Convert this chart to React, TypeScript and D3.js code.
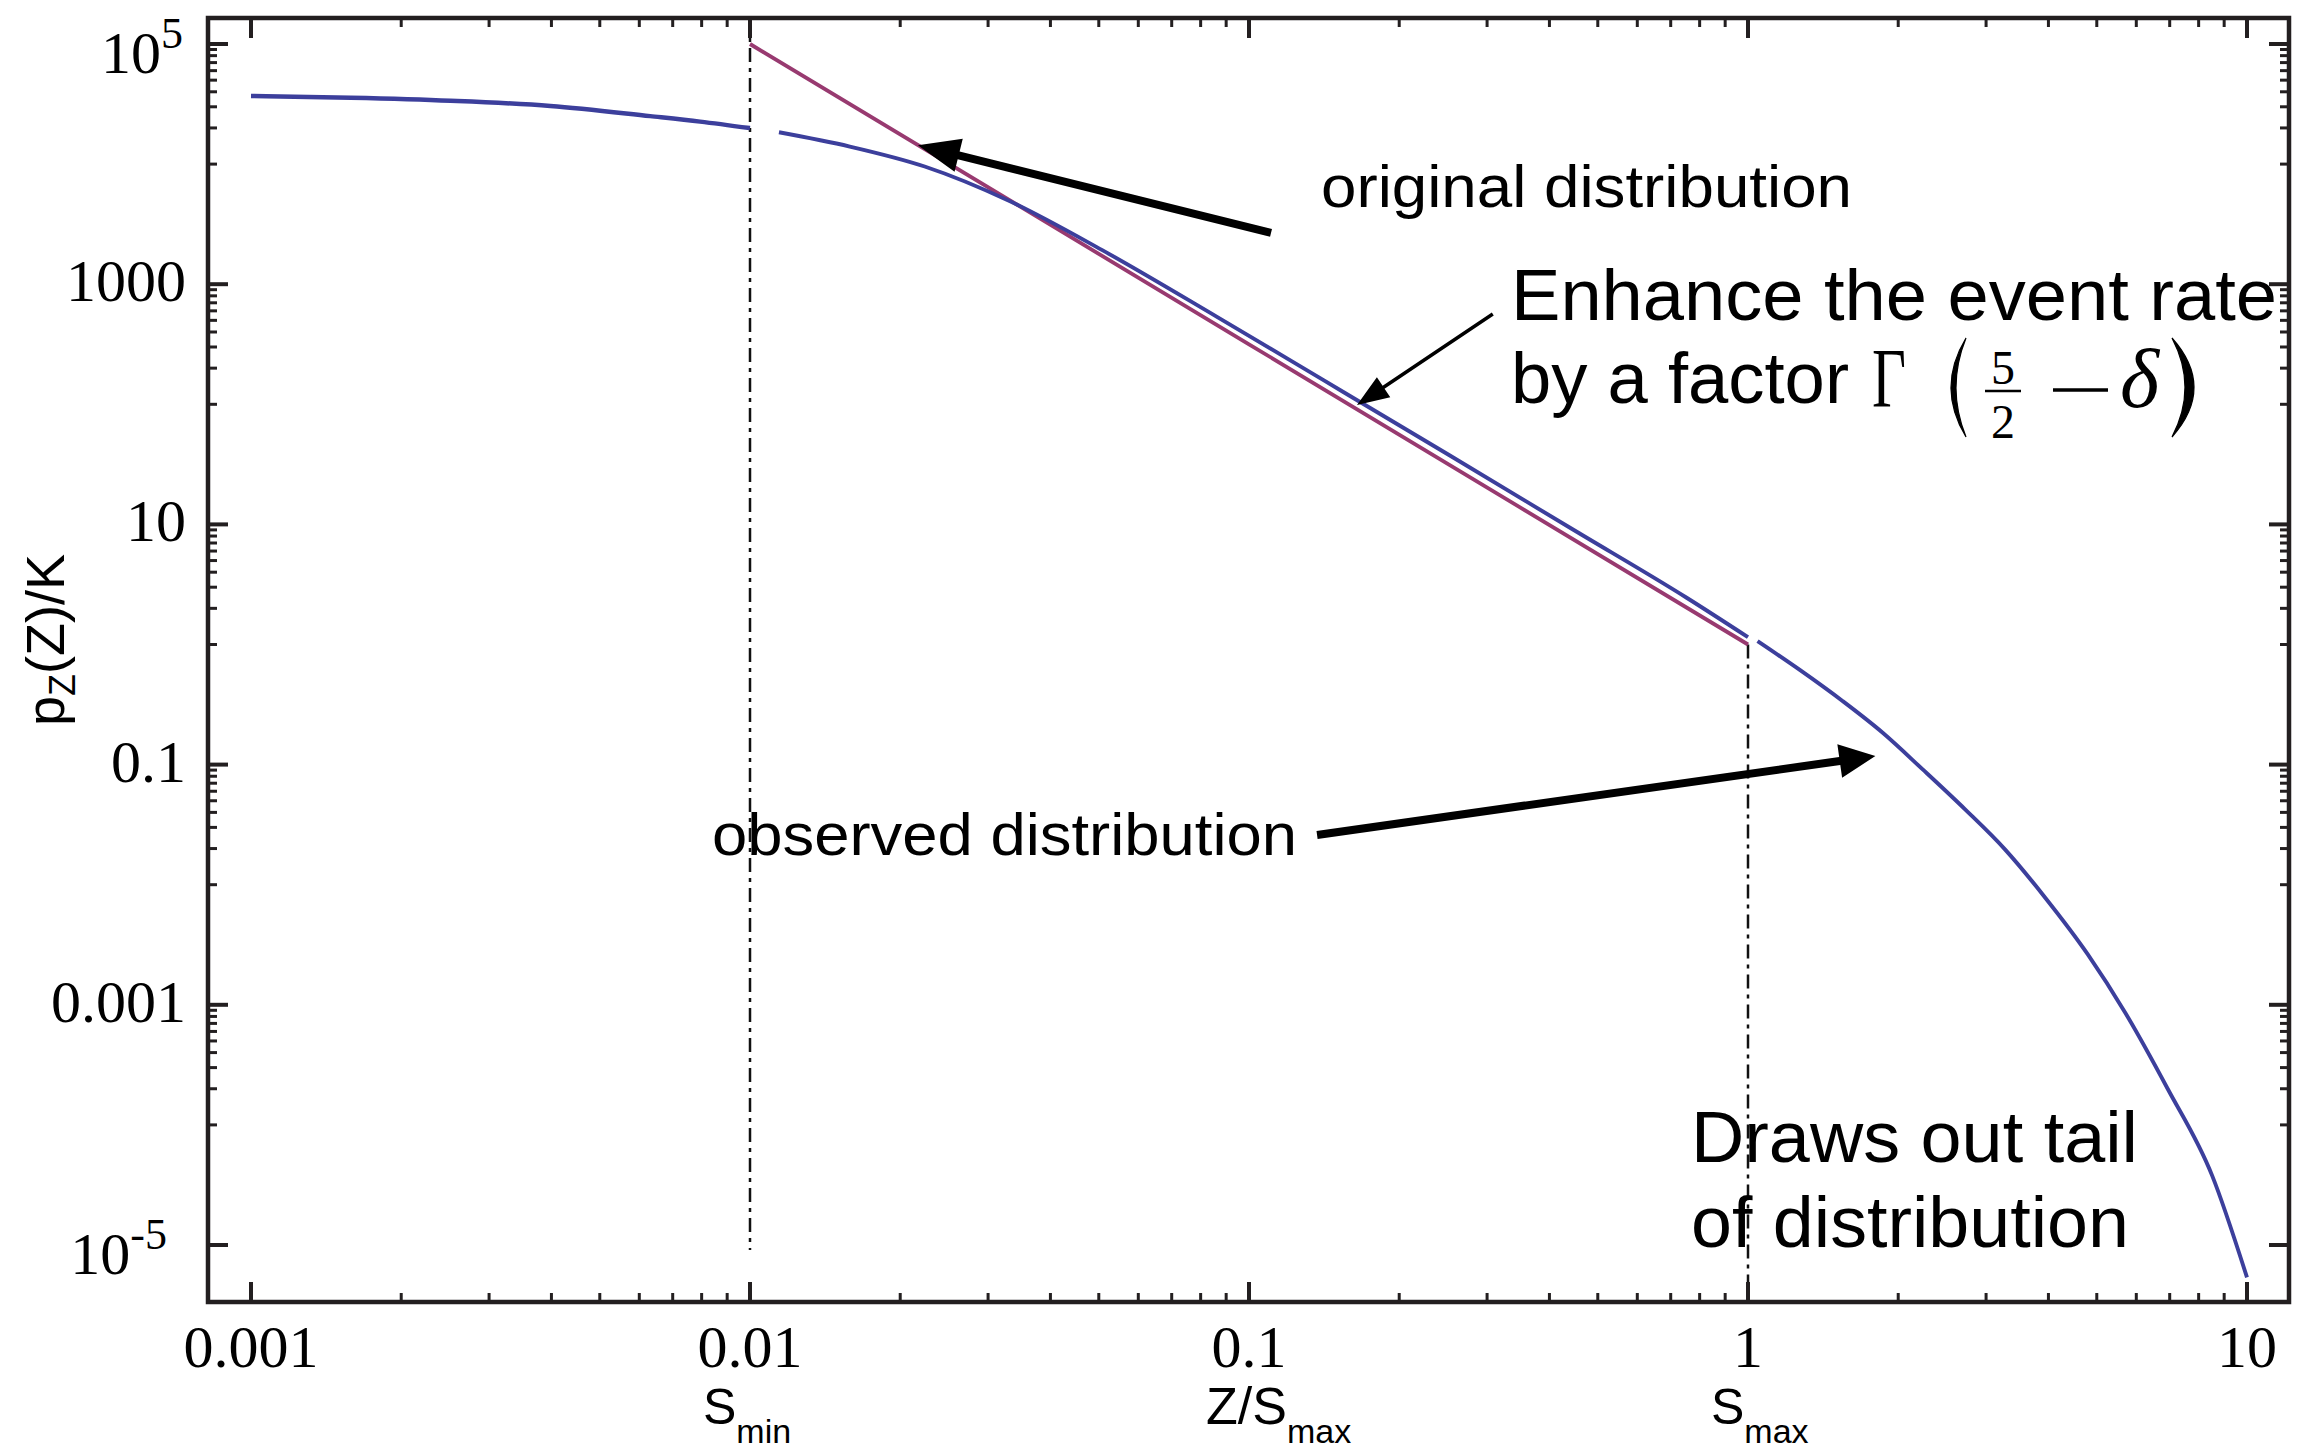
import React from 'react';
import * as d3 from 'd3';

// ---------- data ----------
const xTickValues = [0.001, 0.01, 0.1, 1, 10];
const xTickLabels = ['0.001', '0.01', '0.1', '1', '10'];
const yTickValues = [1e5, 1e3, 10, 0.1, 0.001, 1e-5];
const yTickLabels = ['10^5', '1000', '10', '0.1', '0.001', '10^-5'];

// observed distribution, Z below S_min
const observedLowZ = [0.001, 0.001585, 0.002512, 0.003981, 0.00631, 0.007943, 0.01];
const observedLowP = [36900, 35700, 33700, 30500, 25100, 22600, 19950];
// observed distribution, between S_min and S_max
const observedMidZ = [0.01143, 0.01585, 0.02239, 0.0332, 0.0507, 0.0861, 0.1413, 0.2512, 0.4467, 0.7534, 1.0];
const observedMidP = [18410, 14000, 9550, 4900, 1930, 537, 158, 38.0, 9.02, 2.45, 1.15];
// observed distribution, Z above S_max (the drawn-out tail)
const observedHighZ = [1.045, 1.27, 1.549, 1.862, 2.239, 2.723, 3.273, 3.945, 4.797, 5.702, 6.934, 8.511, 10.0];
const observedHighP = [1.067, 0.614, 0.337, 0.184, 0.0912, 0.0424, 0.0197, 0.00776, 0.00263, 0.000859, 0.0002, 3.8e-5, 5.37e-6];
// original power-law distribution between S_min and S_max
const originalZ = [0.01, 0.1, 1];
const originalP = [1e5, 316, 1];

// cutoffs
const sMin = 0.01;
const sMax = 1;

// ---------- layout ----------
const W = 2301;
const H = 1455;
const frame = { left: 208, right: 2289, top: 18, bottom: 1302 };
const BLUE = '#3c3f9c';
const MAGENTA = '#983a70';
const AXIS = '#231f20';
const SERIF = '"Liberation Serif", "Times New Roman", Times, serif';
const SANS = '"Liberation Sans", Arial, Helvetica, sans-serif';

function zip(a: number[], b: number[]): [number, number][] {
  return a.map((v, i) => [v, b[i]] as [number, number]);
}

function arrowPoints(x1: number, y1: number, x2: number, y2: number, shaft: number, headLen: number, headHalf: number) {
  const dx = x2 - x1;
  const dy = y2 - y1;
  const len = Math.hypot(dx, dy);
  const ux = dx / len;
  const uy = dy / len;
  const nx = -uy;
  const ny = ux;
  const bx = x2 - ux * headLen;
  const by = y2 - uy * headLen;
  const s = shaft / 2;
  const pts: [number, number][] = [
    [x1 + nx * s, y1 + ny * s],
    [bx + nx * s, by + ny * s],
    [bx + nx * headHalf, by + ny * headHalf],
    [x2, y2],
    [bx - nx * headHalf, by - ny * headHalf],
    [bx - nx * s, by - ny * s],
    [x1 - nx * s, y1 - ny * s],
  ];
  return pts.map((p) => p.join(',')).join(' ');
}

export default function App() {
  const x = d3.scaleLog().domain([0.001, 10]).range([251, 2247]);
  const y = d3.scaleLog().domain([1e-5, 1e5]).range([1245, 44]);

  const smooth = d3
    .line<[number, number]>()
    .x((d) => x(d[0]))
    .y((d) => y(d[1]))
    .curve(d3.curveMonotoneX);
  const straight = d3
    .line<[number, number]>()
    .x((d) => x(d[0]))
    .y((d) => y(d[1]));

  const xMinor: number[] = [];
  xTickValues.slice(0, -1).forEach((d) => {
    for (let k = 2; k <= 9; k++) xMinor.push(k * d);
  });
  const yMinor: number[] = [];
  yTickValues.slice(0, -1).forEach((m) => {
    for (let k = 1; k <= 9; k++) yMinor.push((k * m) / 10);
  });

  const MAJ = 20;
  const MIN = 9;

  // annotation arrows, anchored in data space
  const origArrow = arrowPoints(x(0.1107), y(2670), x(0.0217), y(14360), 8, 42, 17);
  const enhArrow = arrowPoints(x(0.308), y(565), x(0.1646), y(98.6), 3.5, 32, 12);
  const obsArrow = arrowPoints(x(0.1369), y(0.02594), x(1.8), y(0.118), 8, 36, 17);

  return (
    <svg
      width={W}
      height={H}
      viewBox={`0 0 ${W} ${H}`}
      style={{ position: 'absolute', left: 0, top: 0, background: '#ffffff', display: 'block' }}
    >
      <rect x={0} y={0} width={W} height={H} fill="#ffffff" />

      {/* cutoff dashed lines */}
      <line
        x1={x(sMin)}
        x2={x(sMin)}
        y1={frame.top}
        y2={1250}
        stroke="#111"
        strokeWidth={2.5}
        strokeDasharray="14 6 4 6"
      />
      <line
        x1={x(sMax)}
        x2={x(sMax)}
        y1={y(1)}
        y2={frame.bottom}
        stroke="#111"
        strokeWidth={2.5}
        strokeDasharray="14 6 4 6"
      />

      {/* curves */}
      <path d={straight(zip(originalZ, originalP)) || ''} fill="none" stroke={MAGENTA} strokeWidth={3.8} />
      <path d={smooth(zip(observedLowZ, observedLowP)) || ''} fill="none" stroke={BLUE} strokeWidth={4.4} />
      <path d={smooth(zip(observedMidZ, observedMidP)) || ''} fill="none" stroke={BLUE} strokeWidth={3.9} />
      <path d={smooth(zip(observedHighZ, observedHighP)) || ''} fill="none" stroke={BLUE} strokeWidth={3.9} />

      {/* frame */}
      <rect
        x={frame.left}
        y={frame.top}
        width={frame.right - frame.left}
        height={frame.bottom - frame.top}
        fill="none"
        stroke={AXIS}
        strokeWidth={4.5}
      />

      {/* x ticks, bottom and top */}
      {xTickValues.map((v) => (
        <g key={'xM' + v}>
          <line x1={x(v)} x2={x(v)} y1={frame.bottom} y2={frame.bottom - MAJ} stroke={AXIS} strokeWidth={4} />
          <line x1={x(v)} x2={x(v)} y1={frame.top} y2={frame.top + MAJ} stroke={AXIS} strokeWidth={4} />
        </g>
      ))}
      {xMinor.map((v) => (
        <g key={'xm' + v}>
          <line x1={x(v)} x2={x(v)} y1={frame.bottom} y2={frame.bottom - MIN} stroke={AXIS} strokeWidth={3} />
          <line x1={x(v)} x2={x(v)} y1={frame.top} y2={frame.top + MIN} stroke={AXIS} strokeWidth={3} />
        </g>
      ))}

      {/* y ticks, left and right */}
      {yTickValues.map((v) => (
        <g key={'yM' + v}>
          <line x1={frame.left} x2={frame.left + MAJ} y1={y(v)} y2={y(v)} stroke={AXIS} strokeWidth={4} />
          <line x1={frame.right} x2={frame.right - MAJ} y1={y(v)} y2={y(v)} stroke={AXIS} strokeWidth={4} />
        </g>
      ))}
      {yMinor.map((v) => (
        <g key={'ym' + v}>
          <line x1={frame.left} x2={frame.left + MIN} y1={y(v)} y2={y(v)} stroke={AXIS} strokeWidth={3} />
          <line x1={frame.right} x2={frame.right - MIN} y1={y(v)} y2={y(v)} stroke={AXIS} strokeWidth={3} />
        </g>
      ))}

      {/* x tick labels */}
      {xTickValues.map((v, i) => (
        <text key={'xl' + v} x={x(v)} y={1367} fontFamily={SERIF} fontSize={60} textAnchor="middle" fill="#000">
          {xTickLabels[i]}
        </text>
      ))}

      {/* y tick labels */}
      {yTickValues.map((v, i) => {
        const lab = yTickLabels[i];
        if (lab.includes('^')) {
          const [base, exp] = lab.split('^');
          const neg = exp.startsWith('-');
          return (
            <text
              key={'yl' + v}
              x={neg ? 167 : 183}
              y={y(v) + 29}
              fontFamily={SERIF}
              fontSize={60}
              textAnchor="end"
              fill="#000"
            >
              {base}
              <tspan dy={-25} fontSize={44}>
                {exp}
              </tspan>
            </text>
          );
        }
        return (
          <text key={'yl' + v} x={186} y={y(v) + 17} fontFamily={SERIF} fontSize={60} textAnchor="end" fill="#000">
            {lab}
          </text>
        );
      })}

      {/* x axis sub-labels */}
      <text x={x(sMin) - 47} y={1424} fontFamily={SANS} fontSize={50} fill="#000">
        S
        <tspan dy={19} fontSize={34}>
          min
        </tspan>
      </text>
      <text x={x(0.1) - 43} y={1424} fontFamily={SANS} fontSize={52} fill="#000">
        Z/S
        <tspan dy={19} fontSize={34}>
          max
        </tspan>
      </text>
      <text x={x(sMax) - 37} y={1424} fontFamily={SANS} fontSize={50} fill="#000">
        S
        <tspan dy={19} fontSize={34}>
          max
        </tspan>
      </text>

      {/* y axis title */}
      <text
        transform="translate(64,640) rotate(-90)"
        textAnchor="middle"
        fontFamily={SANS}
        fontSize={54}
        fill="#000"
      >
        p
        <tspan dy={11} fontSize={36}>
          Z
        </tspan>
        <tspan dy={-11}>(Z)/K</tspan>
      </text>

      {/* annotations */}
      <polygon points={origArrow} fill="#000" />
      <polygon points={enhArrow} fill="#000" />
      <polygon points={obsArrow} fill="#000" />

      <text
        x={1321}
        y={207}
        fontFamily={SANS}
        fontSize={60}
        textLength={531}
        lengthAdjust="spacingAndGlyphs"
        fill="#000"
      >
        original distribution
      </text>
      <text
        x={712}
        y={855}
        fontFamily={SANS}
        fontSize={60}
        textLength={585}
        lengthAdjust="spacingAndGlyphs"
        fill="#000"
      >
        observed distribution
      </text>
      <text
        x={1511}
        y={320}
        fontFamily={SANS}
        fontSize={72}
        textLength={766}
        lengthAdjust="spacingAndGlyphs"
        fill="#000"
      >
        Enhance the event rate
      </text>
      <text
        x={1511}
        y={403}
        fontFamily={SANS}
        fontSize={72}
        textLength={338}
        lengthAdjust="spacingAndGlyphs"
        fill="#000"
      >
        by a factor
      </text>

      {/* Γ(5/2 − δ) */}
      <text transform="translate(1872,407) scale(0.7,1)" fontFamily={SERIF} fontSize={84} fill="#000">
        Γ
      </text>
      <path d="M1966,338 Q1936,387.5 1966,437 Q1946,387.5 1966,338 Z" fill="#000" stroke="#000" strokeWidth={1.2} />
      <text x={2003} y={384} fontFamily={SERIF} fontSize={48} textAnchor="middle" fill="#000">
        5
      </text>
      <line x1={1985} x2={2021} y1={391} y2={391} stroke="#000" strokeWidth={2.5} />
      <text x={2003} y={438} fontFamily={SERIF} fontSize={48} textAnchor="middle" fill="#000">
        2
      </text>
      <line x1={2053} x2={2108} y1={390} y2={390} stroke="#000" strokeWidth={3.5} />
      <text x={2120} y={407} fontFamily={SERIF} fontSize={84} fontStyle="italic" fill="#000">
        δ
      </text>
      <path d="M2172,338 Q2216,387.5 2172,437 Q2198,387.5 2172,338 Z" fill="#000" stroke="#000" strokeWidth={1.2} />

      <text
        x={1691}
        y={1162}
        fontFamily={SANS}
        fontSize={72}
        textLength={447}
        lengthAdjust="spacingAndGlyphs"
        fill="#000"
      >
        Draws out tail
      </text>
      <text
        x={1691}
        y={1247}
        fontFamily={SANS}
        fontSize={72}
        textLength={438}
        lengthAdjust="spacingAndGlyphs"
        fill="#000"
      >
        of distribution
      </text>
    </svg>
  );
}
